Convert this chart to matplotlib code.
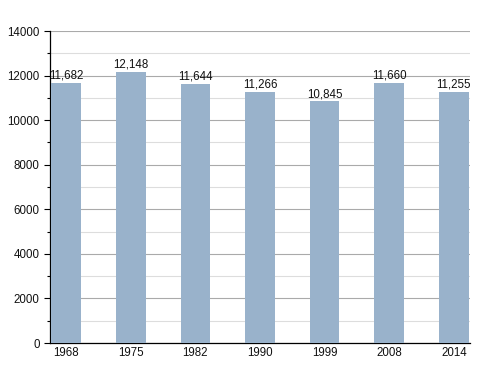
import matplotlib
matplotlib.use("Agg")
import matplotlib.pyplot as plt
from matplotlib.ticker import MultipleLocator

years = ["1968", "1975", "1982", "1990", "1999", "2008", "2014"]
population = [11682, 12148, 11644, 11266, 10845, 11660, 11255]
labels = ["11,682", "12,148", "11,644", "11,266", "10,845", "11,660", "11,255"]

plt.rcParams['font.family'] = ['Liberation Sans', 'DejaVu Sans']

fig = plt.figure(figsize=(5, 3.73), dpi=100)
ax = fig.add_axes([0.1, 0.0804, 0.84, 0.8364])

x = list(range(len(years)))
ax.bar(x, population, width=0.46, color='#99b2cb', zorder=3)
for xi, v, lab in zip(x, population, labels):
    ax.text(xi, v + 60, lab, ha='center', va='bottom', fontsize=8.3, color='#111111', zorder=4)

ax.set_xlim(-0.25, 6.25)
ax.set_ylim(0, 14000)
ax.yaxis.set_major_locator(MultipleLocator(2000))
ax.yaxis.set_minor_locator(MultipleLocator(1000))
ax.grid(axis='y', which='major', color='#aaaaaa', linewidth=0.8, zorder=1)
ax.grid(axis='y', which='minor', color='#dddddd', linewidth=0.8, zorder=1)
ax.set_xticks(x)
ax.set_xticklabels(years)
ax.tick_params(axis='x', length=0, labelsize=8.3, pad=3, labelcolor='#111111')
ax.tick_params(axis='y', which='major', length=4, labelsize=8.3, direction='out', width=0.8, labelcolor='#111111')
ax.tick_params(axis='y', which='minor', length=2, direction='out', width=0.8)
for s in ['top', 'right']:
    ax.spines[s].set_visible(False)
ax.spines['left'].set_linewidth(0.9)
ax.spines['bottom'].set_linewidth(0.9)

fig.savefig('out.png', dpi=100)
